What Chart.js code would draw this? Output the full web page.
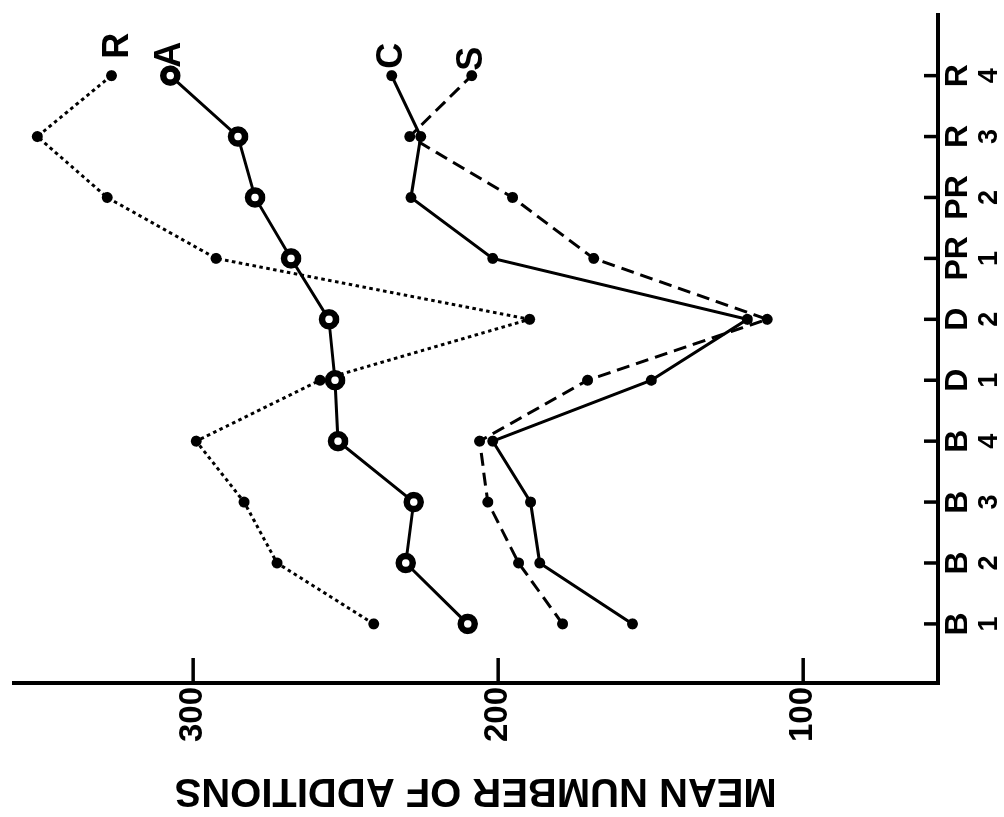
<!DOCTYPE html>
<html>
<head>
<meta charset="utf-8">
<script src="https://cdn.jsdelivr.net/npm/chart.js@4.4.1/dist/chart.umd.min.js"></script>
<style>
  html, body { margin: 0; padding: 0; background: #fff; overflow: hidden; }
  /* chart is drawn upright, then turned a quarter turn to match the scan */
  #wrap {
    position: absolute; left: 0; top: 0;
    width: 817px; height: 1004px;
    transform-origin: 0 0;
    transform: translate(0, 817px) rotate(-90deg);
  }
</style>
</head>
<body>
<div id="wrap"><canvas id="chart"></canvas></div>
<script>
// ---------------------- Data ----------------------
const CATS     = ['B', 'B', 'B', 'B', 'D', 'D', 'PR', 'PR', 'R', 'R'];
const CAT_SUBS = ['1', '2', '3', '4', '1', '2', '1', '2', '3', '4'];
const Y_TICKS  = [100, 200, 300];

const SERIES_A = [210.0, 230.3, 227.7, 252.5, 253.5, 255.5, 267.9, 279.7, 285.3, 307.5];
const SERIES_R = [240.8, 272.5, 283.3, 299.0, 258.4, 189.7, 292.5, 328.2, 351.1, 326.8];
const SERIES_C = [156.0, 186.4, 189.4, 201.8, 149.8, 118.3, 201.8, 228.6, 225.4, 234.9];
const SERIES_S = [178.9, 193.3, 203.4, 206.1, 170.7, 111.8, 168.7, 195.3, 229.0, 208.7];

// label offsets from each series' last point (upright chart coords)
const LABEL_OFFSETS = { A: [8, 0], R: [17, 7], C: [7, 0], S: [5, 0] };

const FONT = 'Liberation Sans';
const toPoints = (vals) => vals.map((v, i) => ({ x: i, y: v }));

const dotSeries = (label, vals, dash) => ({
  label,
  data: toPoints(vals),
  borderColor: '#000',
  borderWidth: 3,
  borderDash: dash,
  borderCapStyle: 'butt',
  pointRadius: 5.5,
  pointBackgroundColor: '#000',
  pointBorderWidth: 0,
  tension: 0,
});

// ---------------------- Extras: inward ticks, subscripts, series labels ----------------------
const decorations = {
  id: 'decorations',
  afterDraw(chart) {
    const { ctx, chartArea: a, scales: { x, y } } = chart;
    ctx.save();
    ctx.strokeStyle = '#000';
    ctx.lineWidth = 3.5;
    Y_TICKS.forEach(v => {
      const py = y.getPixelForValue(v);
      ctx.beginPath(); ctx.moveTo(a.left, py); ctx.lineTo(a.left + 25, py); ctx.stroke();
    });
    CATS.forEach((c, i) => {
      const px = x.getPixelForValue(i);
      ctx.beginPath(); ctx.moveTo(px, a.bottom); ctx.lineTo(px, a.bottom - 14); ctx.stroke();
    });

    ctx.fillStyle = '#000';
    ctx.font = `bold 27px "${FONT}"`;
    ctx.textAlign = 'center';
    ctx.textBaseline = 'alphabetic';
    CAT_SUBS.forEach((s, i) => ctx.fillText(s, x.getPixelForValue(i), a.bottom + 59));

    ctx.font = `bold 36px "${FONT}"`;
    ctx.textAlign = 'left';
    ctx.textBaseline = 'middle';
    chart.data.datasets.forEach((ds, k) => {
      const pts = chart.getDatasetMeta(k).data;
      const last = pts[pts.length - 1];
      const off = LABEL_OFFSETS[ds.label];
      ctx.fillText(ds.label, last.x + off[0], last.y + off[1]);
    });
    ctx.restore();
  },
};

// ---------------------- Chart ----------------------
new Chart(document.getElementById('chart'), {
  type: 'line',
  data: {
    datasets: [
      {
        label: 'A',
        data: toPoints(SERIES_A),
        borderColor: '#000',
        borderWidth: 3,
        pointRadius: 7,
        pointBorderWidth: 6.5,
        pointBorderColor: '#000',
        pointBackgroundColor: '#fff',
        tension: 0,
      },
      dotSeries('C', SERIES_C, []),
      dotSeries('S', SERIES_S, [13, 7]),
      dotSeries('R', SERIES_R, [3.5, 3.5]),
    ],
  },
  options: {
    responsive: true,
    maintainAspectRatio: false,
    animation: false,
    layout: { padding: { top: 12, right: 7, left: 0, bottom: 0 } },
    plugins: { legend: { display: false }, tooltip: { enabled: false } },
    scales: {
      x: {
        type: 'linear',
        min: -0.97,
        max: 10.02,
        afterBuildTicks: (s) => { s.ticks = CATS.map((c, i) => ({ value: i })); },
        afterFit: (s) => { s.height = 66; s.paddingLeft = 0; s.paddingRight = 0; },
        grid: { display: false },
        border: { display: true, color: '#000', width: 4 },
        ticks: {
          autoSkip: false, maxRotation: 0, minRotation: 0, padding: -7,
          color: '#000',
          font: { family: FONT, size: 32, weight: 'bold' },
          callback: (v) => CATS[v] ?? '',
        },
      },
      y: {
        type: 'linear',
        min: 55.8,
        max: 358.9,
        afterBuildTicks: (s) => { s.ticks = Y_TICKS.map(v => ({ value: v })); },
        afterFit: (s) => { s.width = 134; s.paddingTop = 0; s.paddingBottom = 0; },
        grid: { display: false },
        border: { display: true, color: '#000', width: 4 },
        ticks: {
          padding: -4,
          color: '#000',
          font: { family: FONT, size: 33, weight: 'bold' },
        },
        title: {
          display: true,
          text: 'MEAN NUMBER OF ADDITIONS',
          color: '#000',
          font: { family: FONT, size: 40, weight: 'bold' },
          padding: { top: 3, bottom: 0 },
        },
      },
    },
  },
  plugins: [decorations],
});
</script>
</body>
</html>
